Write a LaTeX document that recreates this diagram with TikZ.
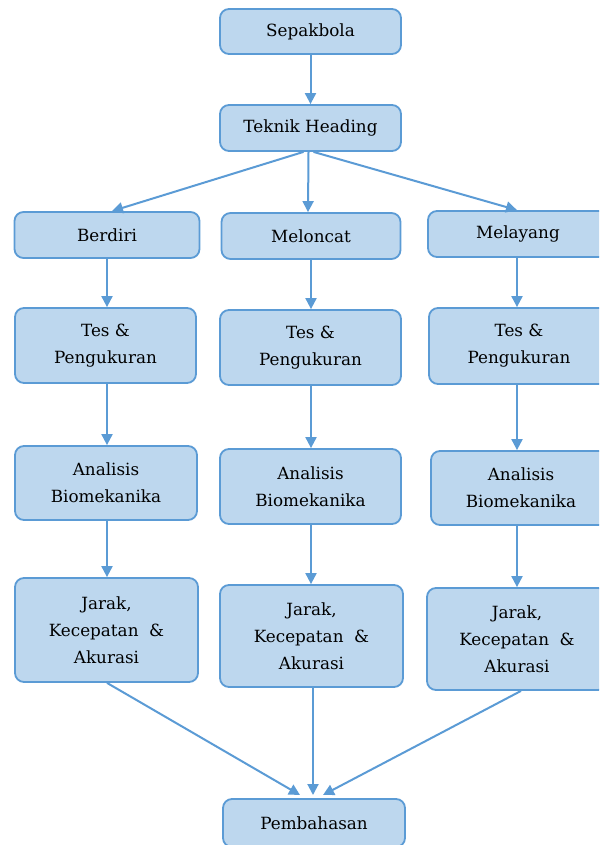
\documentclass[tikz,border=0pt]{standalone}
\usepackage{fontspec}
\setmainfont{DejaVu Serif}
\usetikzlibrary{arrows.meta}
\definecolor{boxfill}{HTML}{BDD7EE}
\definecolor{boxline}{HTML}{5B9BD5}
\tikzset{
  box/.style={draw=boxline, fill=boxfill, line width=1.8pt, rounded corners=9pt,
    align=center, inner sep=0pt, text=black,
    font=\fontsize{16.8}{27}\selectfont},
  conn/.style={draw=boxline, line width=2pt, -{Triangle[length=11pt,width=11pt]}}
}
\begin{document}
\begin{tikzpicture}[x=1pt,y=-1pt]
\useasboundingbox (0,0) rectangle (599,845);
\clip (0,0) rectangle (599,845);
\node[box, minimum width=181pt, minimum height=45pt] (sepak) at (310.5,31.5) {Sepakbola};
\node[box, minimum width=181pt, minimum height=46pt] (teknik) at (310.5,128) {Teknik Heading};
\node[box, minimum width=185pt, minimum height=46pt] (berdiri) at (107,235) {Berdiri};
\node[box, minimum width=179pt, minimum height=46pt] (meloncat) at (311,236) {Meloncat};
\node[box, minimum width=180pt, minimum height=46pt] (melayang) at (518,234) {Melayang};
\node[box, minimum width=181pt, minimum height=75pt] (tesl) at (105.5,345.5) {Tes \&\\Pengukuran};
\node[box, minimum width=181pt, minimum height=75pt] (tesm) at (310.5,347.5) {Tes \&\\Pengukuran};
\node[box, minimum width=180pt, minimum height=76pt] (tesr) at (519,346) {Tes \&\\Pengukuran};
\node[box, minimum width=182pt, minimum height=74pt] (anl) at (106,483) {Analisis\\Biomekanika};
\node[box, minimum width=181pt, minimum height=75pt] (anm) at (310.5,486.5) {Analisis\\Biomekanika};
\node[box, minimum width=180pt, minimum height=74pt] (anr) at (521,488) {Analisis\\Biomekanika};
\node[box, minimum width=183pt, minimum height=104pt] (jl) at (106.5,630) {Jarak,\\Kecepatan~~\&\\Akurasi};
\node[box, minimum width=183pt, minimum height=102pt] (jm) at (311.5,636) {Jarak,\\Kecepatan~~\&\\Akurasi};
\node[box, minimum width=180pt, minimum height=102pt] (jr) at (517,639) {Jarak,\\Kecepatan~~\&\\Akurasi};
\node[box, minimum width=182pt, minimum height=48pt] (pemb) at (314,823) {Pembahasan};
\coordinate (pl) at (300,795);
\coordinate (pm) at (313,795);
\coordinate (pr) at (323,795);
\draw[conn] (sepak.south) -- (teknik.north);
\draw[conn] ([xshift=-7pt]teknik.south) -- ([xshift=5pt]berdiri.north);
\draw[conn] ([xshift=-2pt]teknik.south) -- ([xshift=-3pt]meloncat.north);
\draw[conn] ([xshift=3pt]teknik.south) -- ([xshift=-1pt]melayang.north);
\draw[conn] (berdiri.south) -- (berdiri.south |- tesl.north);
\draw[conn] (meloncat.south) -- (meloncat.south |- tesm.north);
\draw[conn] ([xshift=-1pt]melayang.south) -- ([xshift=-1pt]melayang.south |- tesr.north);
\draw[conn] (berdiri.south |- tesl.south) -- (berdiri.south |- anl.north);
\draw[conn] (meloncat.south |- tesm.south) -- (meloncat.south |- anm.north);
\draw[conn] ([xshift=-1pt]melayang.south |- tesr.south) -- ([xshift=-1pt]melayang.south |- anr.north);
\draw[conn] (berdiri.south |- anl.south) -- (berdiri.south |- jl.north);
\draw[conn] (meloncat.south |- anm.south) -- (meloncat.south |- jm.north);
\draw[conn] ([xshift=-1pt]melayang.south |- anr.south) -- ([xshift=-1pt]melayang.south |- jr.north);
\draw[conn] (berdiri.south |- jl.south) -- (pl);
\draw[conn] (pm |- jm.south) -- (pm);
\draw[conn] ([xshift=3pt]melayang.south |- jr.south) -- (pr);
\end{tikzpicture}
\end{document}
